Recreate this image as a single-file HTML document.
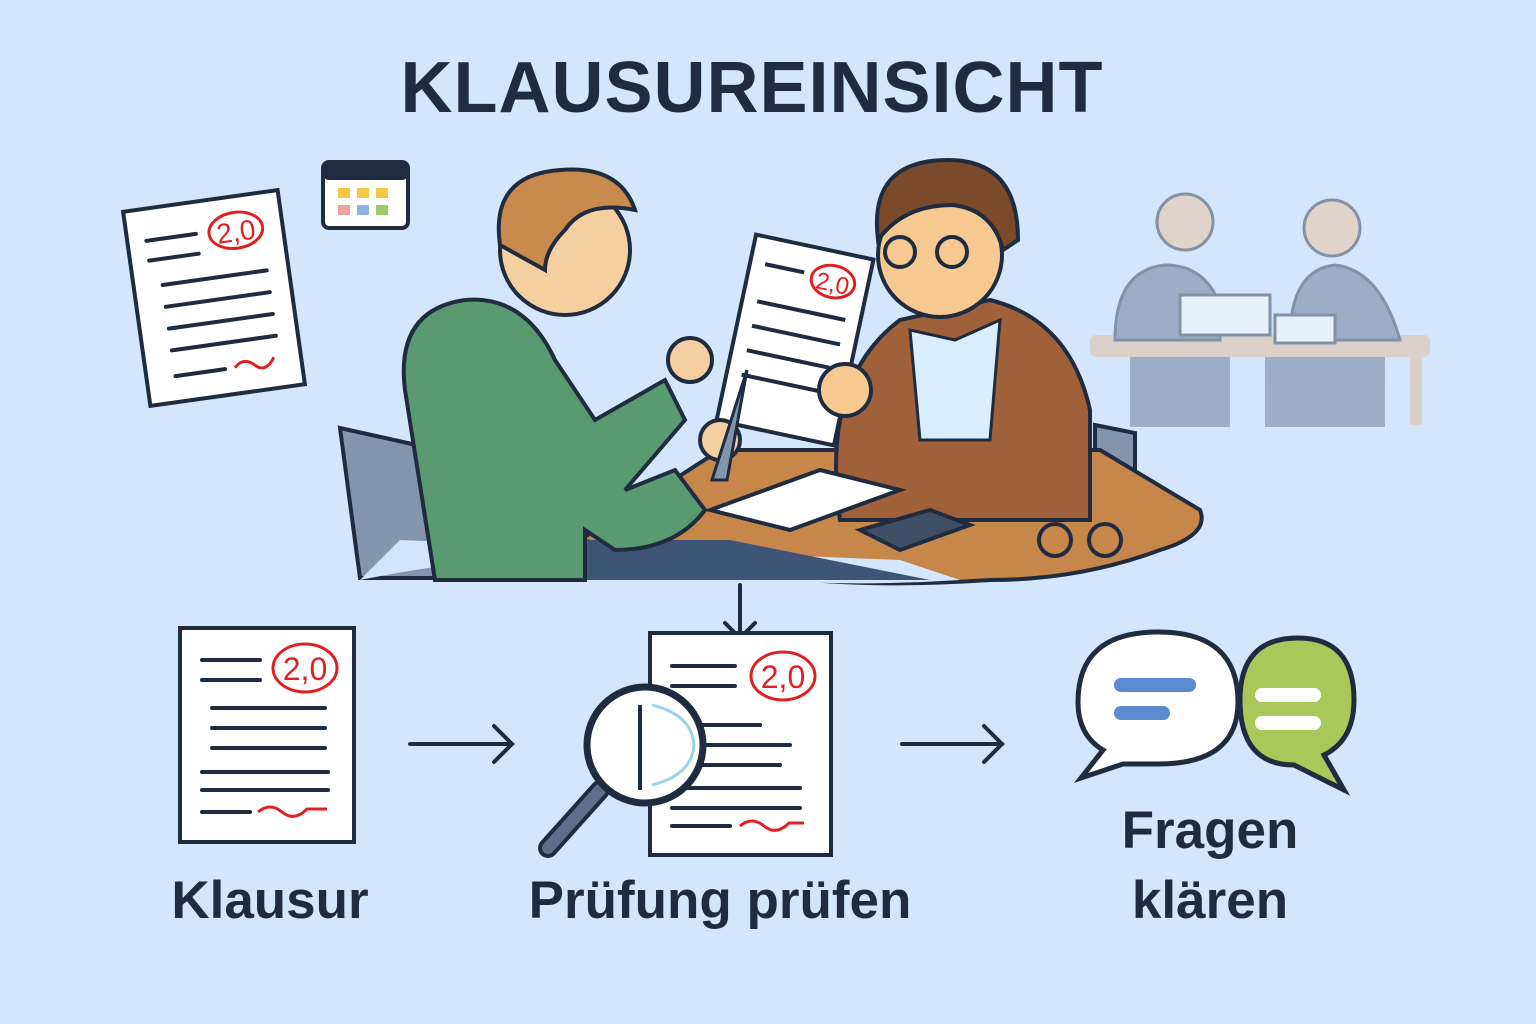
<!DOCTYPE html>
<html><head><meta charset="utf-8"><style>
html,body{margin:0;padding:0;background:#d4e6fb;}
svg{display:block}
text{font-family:"Liberation Sans","DejaVu Sans",sans-serif;fill:#1f2c40}
</style></head><body>
<svg width="1536" height="1024" viewBox="0 0 1536 1024" xmlns="http://www.w3.org/2000/svg">
<rect width="1536" height="1024" fill="#d4e6fb"/>
<text x="752" y="112" text-anchor="middle" font-size="72" font-weight="bold" letter-spacing="1">KLAUSUREINSICHT</text>

<!-- top-left doc -->
<g transform="rotate(-8 214 298)">
<rect x="136" y="200" width="156" height="196" fill="#fff" stroke="#1f2c40" stroke-width="4"/>
<ellipse cx="245" cy="234" rx="27" ry="18" fill="none" stroke="#e02020" stroke-width="3"/>
<text x="245" y="245" text-anchor="middle" font-size="28" style="fill:#e02020">2,0</text>
<g stroke="#1f2c40" stroke-width="4" stroke-linecap="round">
<line x1="155" y1="232" x2="205" y2="232"/><line x1="155" y1="252" x2="205" y2="252"/>
<line x1="165" y1="278" x2="270" y2="278"/><line x1="165" y1="300" x2="270" y2="300"/>
<line x1="165" y1="322" x2="270" y2="322"/><line x1="165" y1="344" x2="270" y2="344"/>
<line x1="165" y1="370" x2="215" y2="370"/></g>
<path d="M225 370 q10 -10 20 0 t20 -5" stroke="#e02020" stroke-width="3" fill="none"/>
</g>
<!-- calendar -->
<rect x="323" y="162" width="85" height="66" rx="6" fill="#fff" stroke="#1f2c40" stroke-width="4"/>
<rect x="323" y="162" width="85" height="18" rx="6" fill="#1f2c40"/>
<rect x="338" y="188" width="12" height="10" fill="#f5c842"/><rect x="357" y="188" width="12" height="10" fill="#f5c842"/><rect x="376" y="188" width="12" height="10" fill="#f5c842"/>
<rect x="338" y="205" width="12" height="10" fill="#f2a0a0"/><rect x="357" y="205" width="12" height="10" fill="#8fb3e8"/><rect x="376" y="205" width="12" height="10" fill="#9ccb6c"/>

<!-- background people faded -->
<g opacity="0.45">
<rect x="1090" y="335" width="340" height="22" rx="6" fill="#e0b890"/>
<rect x="1410" y="355" width="12" height="70" fill="#e0b890"/>
<path d="M1115 340 q0 -70 50 -75 q40 0 55 40 l0 35z" fill="#5a6a85" stroke="#1f2c40" stroke-width="3"/>
<circle cx="1185" cy="222" r="28" fill="#f0c090" stroke="#1f2c40" stroke-width="3"/>
<path d="M1290 340 q0 -70 45 -75 q45 5 65 75z" fill="#5a6a85" stroke="#1f2c40" stroke-width="3"/>
<circle cx="1332" cy="228" r="28" fill="#f0c090" stroke="#1f2c40" stroke-width="3"/>
<rect x="1180" y="295" width="90" height="40" fill="#fff" stroke="#1f2c40" stroke-width="3"/>
<rect x="1275" y="315" width="60" height="28" fill="#fff" stroke="#1f2c40" stroke-width="3"/>
<path d="M1130 357 l0 70 h100 v-70 M1265 357 v70 h120 v-70" fill="#5a6a85"/>
</g>

<!-- main scene -->
<path d="M340 428 l90 20 l50 130 h-120z" fill="#8395ac" stroke="#1f2c40" stroke-width="4"/>
<path d="M1095 425 l40 8 v70 h-40z" fill="#8395ac" stroke="#1f2c40" stroke-width="4"/>
<path d="M580 540 l140 -90 h380 l100 60 q10 25 -40 40 q-80 30 -170 30 q-150 10 -250 -10 z" fill="#c7874a" stroke="#1f2c40" stroke-width="4"/>
<path d="M360 580 q200 -40 300 -10 q150 20 300 10 l-60 -20 l-500 -20z" fill="#d4e6fb"/>
<path d="M580 540 h150 l200 40 h-350z" fill="#3f5578"/>
<!-- student -->
<path d="M405 390 q-10 -80 60 -90 q60 -5 90 60 l40 60 l70 -40 l20 40 l-60 70 l50 -20 l30 40 q-30 40 -90 40 l-30 -20 v50 h-150 z" fill="#5a9a70" stroke="#1f2c40" stroke-width="4"/>
<circle cx="565" cy="250" r="65" fill="#f5cfa0" stroke="#1f2c40" stroke-width="4"/>
<path d="M500 245 q-10 -70 60 -75 q60 -5 75 40 q-50 -10 -70 20 q-20 20 -20 40 z" fill="#c98a4d" stroke="#1f2c40" stroke-width="4"/>
<!-- teacher -->
<path d="M840 520 q-20 -140 60 -200 l90 -20 q80 20 100 110 v110 z" fill="#a0603a" stroke="#1f2c40" stroke-width="4"/>
<path d="M910 330 l45 10 l45 -20 l-10 120 h-70 z" fill="#d9eefc" stroke="#1f2c40" stroke-width="3"/>
<circle cx="940" cy="255" r="62" fill="#f5c98f" stroke="#1f2c40" stroke-width="4"/>
<path d="M878 240 q-10 -80 70 -80 q70 0 70 80 l-15 10 q-10 -40 -50 -45 q-50 0 -75 35z" fill="#7a4a2a" stroke="#1f2c40" stroke-width="4"/>
<circle cx="900" cy="252" r="15" fill="none" stroke="#1f2c40" stroke-width="4"/><circle cx="952" cy="252" r="15" fill="none" stroke="#1f2c40" stroke-width="4"/>
<!-- held doc -->
<g transform="rotate(12 795 340)">
<rect x="735" y="245" width="120" height="190" fill="#fff" stroke="#1f2c40" stroke-width="4"/>
<ellipse cx="820" cy="275" rx="22" ry="16" fill="none" stroke="#e02020" stroke-width="3"/>
<text x="820" y="285" text-anchor="middle" font-size="24" style="fill:#e02020">2,0</text>
<g stroke="#1f2c40" stroke-width="4"><line x1="750" y1="272" x2="790" y2="272"/><line x1="750" y1="310" x2="840" y2="310"/><line x1="750" y1="335" x2="840" y2="335"/><line x1="750" y1="360" x2="840" y2="360"/><line x1="750" y1="385" x2="840" y2="385"/></g>
</g>
<circle cx="690" cy="360" r="22" fill="#f5cfa0" stroke="#1f2c40" stroke-width="4"/>
<circle cx="720" cy="440" r="20" fill="#f5cfa0" stroke="#1f2c40" stroke-width="4"/>
<circle cx="845" cy="390" r="26" fill="#f5c98f" stroke="#1f2c40" stroke-width="4"/>
<path d="M712 480 l35 -110 l-20 110z" fill="#8395ac" stroke="#1f2c40" stroke-width="3"/>
<path d="M710 510 l110 -40 l80 20 l-110 40z" fill="#fff" stroke="#1f2c40" stroke-width="4"/>
<path d="M860 530 l70 -20 l40 15 l-70 25z" fill="#3f4f66" stroke="#1f2c40" stroke-width="4"/>
<circle cx="1055" cy="540" r="16" fill="none" stroke="#1f2c40" stroke-width="4"/><circle cx="1105" cy="540" r="16" fill="none" stroke="#1f2c40" stroke-width="4"/>

<!-- bottom flow -->
<rect x="180" y="628" width="174" height="214" fill="#fff" stroke="#1f2c40" stroke-width="4"/>
<ellipse cx="305" cy="668" rx="32" ry="24" fill="none" stroke="#e02020" stroke-width="3"/>
<text x="305" y="680" text-anchor="middle" font-size="32" style="fill:#e02020">2,0</text>
<g stroke="#1f2c40" stroke-width="4" stroke-linecap="round">
<line x1="202" y1="660" x2="260" y2="660"/><line x1="202" y1="680" x2="260" y2="680"/>
<line x1="212" y1="708" x2="325" y2="708"/><line x1="212" y1="728" x2="325" y2="728"/><line x1="212" y1="748" x2="325" y2="748"/><line x1="202" y1="772" x2="328" y2="772"/><line x1="202" y1="790" x2="328" y2="790"/><line x1="202" y1="812" x2="250" y2="812"/></g>
<path d="M258 812 q12 -10 24 0 t25 -3 l20 0" stroke="#e02020" stroke-width="3" fill="none"/>
<g stroke="#1f2c40" stroke-width="4" fill="none" stroke-linecap="round">
<line x1="410" y1="744" x2="512" y2="744"/><path d="M494 726 l18 18 l-18 18"/>
<line x1="902" y1="744" x2="1002" y2="744"/><path d="M984 726 l18 18 l-18 18"/>
<line x1="740" y1="585" x2="740" y2="638"/><path d="M725 623 l15 15 l15 -15"/>
</g>
<rect x="650" y="633" width="181" height="222" fill="#fff" stroke="#1f2c40" stroke-width="4"/>
<ellipse cx="783" cy="676" rx="32" ry="24" fill="none" stroke="#e02020" stroke-width="3"/>
<text x="783" y="688" text-anchor="middle" font-size="32" style="fill:#e02020">2,0</text>
<g stroke="#1f2c40" stroke-width="4" stroke-linecap="round">
<line x1="672" y1="666" x2="735" y2="666"/><line x1="672" y1="686" x2="735" y2="686"/>
<line x1="680" y1="725" x2="760" y2="725"/><line x1="680" y1="745" x2="790" y2="745"/><line x1="680" y1="765" x2="780" y2="765"/><line x1="672" y1="788" x2="800" y2="788"/><line x1="672" y1="808" x2="800" y2="808"/><line x1="672" y1="826" x2="730" y2="826"/></g>
<path d="M740 826 q12 -10 24 0 t25 -3 l15 0" stroke="#e02020" stroke-width="3" fill="none"/>
<line x1="600" y1="790" x2="548" y2="848" stroke="#1f2c40" stroke-width="20" stroke-linecap="round"/>
<line x1="600" y1="790" x2="548" y2="848" stroke="#5d6f8a" stroke-width="12" stroke-linecap="round"/>
<circle cx="645" cy="745" r="58" fill="#fff" stroke="#1f2c40" stroke-width="7"/>
<path d="M652 705 q40 10 42 40 q-2 30 -42 40" fill="none" stroke="#9bd3e8" stroke-width="3"/>
<line x1="640" y1="705" x2="640" y2="790" stroke="#1f2c40" stroke-width="4"/>
<!-- bubbles -->
<path d="M1240 700 q0 -62 58 -62 q56 0 56 62 q0 40 -30 55 l20 35 l-50 -25 q-54 0 -54 -65z" fill="#a8c95a" stroke="#1f2c40" stroke-width="5"/>
<rect x="1255" y="688" width="66" height="14" rx="7" fill="#fff"/><rect x="1255" y="716" width="66" height="14" rx="7" fill="#fff"/>
<path d="M1078 702 q0 -70 80 -70 q80 0 80 70 q0 62 -80 62 l-35 0 l-42 14 l22 -28 q-25 -15 -25 -48z" fill="#fff" stroke="#1f2c40" stroke-width="5"/>
<rect x="1114" y="678" width="82" height="14" rx="7" fill="#5a8ad0"/><rect x="1114" y="706" width="56" height="14" rx="7" fill="#5a8ad0"/>

<text x="270" y="918" text-anchor="middle" font-size="53" font-weight="bold">Klausur</text>
<text x="720" y="918" text-anchor="middle" font-size="53" font-weight="bold">Prüfung prüfen</text>
<text x="1210" y="848" text-anchor="middle" font-size="53" font-weight="bold">Fragen</text>
<text x="1210" y="918" text-anchor="middle" font-size="53" font-weight="bold">klären</text>
</svg>
</body></html>
